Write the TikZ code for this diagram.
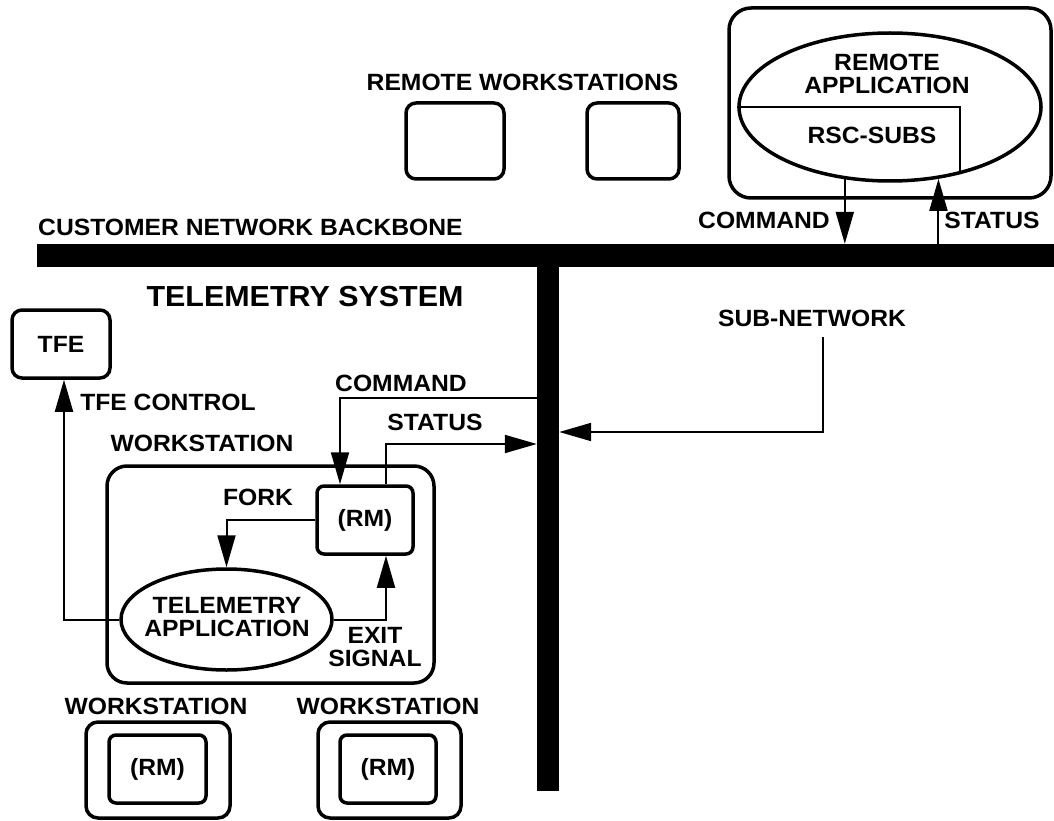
\documentclass[tikz,border=0pt]{standalone}
\usepackage{fontspec}
\newfontfamily\labfont{Liberation Sans}[FakeStretch=1.05]
\usetikzlibrary{shapes.geometric,arrows.meta}
\begin{document}
\begin{tikzpicture}[x=1pt,y=-1pt,
  box/.style={draw, line width=3.5pt, rounded corners=18pt, inner sep=0pt},
  sbox/.style={draw, line width=3.5pt, rounded corners=7pt, inner sep=0pt},
  ell/.style={ellipse, draw, line width=3.5pt, inner sep=0pt},
  bar/.style={fill=black, draw=none, inner sep=0pt},
  conn/.style={line width=2pt},
  arr/.style={conn, -{Triangle[length=32pt,width=18pt]}},
  lbl/.style={font=\labfont\bfseries\fontsize{23.5}{23}\selectfont, inner sep=0pt, align=center},
  big/.style={font=\labfont\bfseries\fontsize{29}{29}\selectfont, inner sep=0pt}]
\useasboundingbox (0,0) rectangle (1054,821);
% bars
\node[bar, minimum width=1017pt, minimum height=23pt] (backbone) at (545.5,255.5) {};
\node[bar, minimum width=22pt, minimum height=530pt] (vbar) at (548,526) {};
% remote part
\node[lbl] (remws) at (522.5,82) {REMOTE WORKSTATIONS};
\node[box, rounded corners=10pt, minimum width=98pt, minimum height=76pt] (rw1) at (455,141) {};
\node[box, rounded corners=10pt, minimum width=92pt, minimum height=76pt] (rw2) at (633,141) {};
\node[box, rounded corners=22pt, minimum width=322pt, minimum height=190pt] (remote) at (890,103) {};
\node[ell, minimum width=302pt, minimum height=148pt] (remapp) at (890,107) {};
\node[lbl] (remapptxt) at (887,73.5) {REMOTE\\APPLICATION};
\node[lbl] (rsc) at (872,135) {RSC-SUBS};
\draw[conn] (remapp.west) -- (remapp.west -| remapp.316) -- (remapp.316);
\draw[arr] (remapp.238) -- (remapp.238 |- backbone.north);
\draw[arr] (backbone.north -| remapp.304) -- (remapp.304);
\node[lbl] (cmdtop) at (764,220) {COMMAND};
\node[lbl] (stattop) at (992,220) {STATUS};
\node[lbl, anchor=west] (backtxt) at (38,227) {CUSTOMER NETWORK BACKBONE};
\node[big] (telsys) at (305,297) {TELEMETRY SYSTEM};
\node[lbl] (subnet) at (812,318) {SUB-NETWORK};
% TFE
\node[box, rounded corners=10pt, minimum width=98pt, minimum height=68pt, lbl] (tfe) at (61,344) {TFE};
\node[lbl] (tfectl) at (168,402) {TFE CONTROL};
% workstation
\node[lbl] (wslbl) at (202,443) {WORKSTATION};
\node[box, rounded corners=20pt, minimum width=327pt, minimum height=217pt] (ws) at (270.5,574.5) {};
\node[sbox, lbl, minimum width=96pt, minimum height=68pt] (rm) at (365,520) {(RM)};
\node[ell, lbl, minimum width=211pt, minimum height=101pt] (telapp) at (226.5,619.5) {};
\node[lbl] (telapptxt) at (227,617) {TELEMETRY\\APPLICATION};
\node[lbl] (fork) at (258,497) {FORK};
\node[lbl] (exitsig) at (375,647) {EXIT\\SIGNAL};
\node[lbl] (cmdmid) at (401,383) {COMMAND};
\node[lbl] (statmid) at (435,422) {STATUS};
% connectors
\coordinate (cmdturn) at (340,398);
\coordinate (statturn) at (386,444);
\coordinate (subtop) at (823,337);
\coordinate (subturn) at (823,432);
\draw[arr] (telapp.west) -| ([xshift=3pt]tfe.south);
\draw[arr] (rm.west) -| (telapp.north);
\draw[arr] (telapp.east) -| (statturn |- rm.south);
\draw[arr] (cmdturn -| vbar.west) -- (cmdturn) -- (cmdturn |- rm.north);
\draw[arr] (statturn |- rm.north) -- (statturn) -- (statturn -| vbar.west);
\draw[arr] (subtop) -- (subturn) -- (subturn -| vbar.east);
% bottom workstations
\node[lbl] (ws2lbl) at (156,706) {WORKSTATION};
\node[lbl] (ws3lbl) at (388,706) {WORKSTATION};
\node[box, rounded corners=12pt, minimum width=144pt, minimum height=96pt] (ws2) at (158,770) {};
\node[sbox, lbl, minimum width=97pt, minimum height=68pt] (rm2) at (157.5,769) {(RM)};
\node[box, rounded corners=12pt, minimum width=143pt, minimum height=96pt] (ws3) at (389.5,770) {};
\node[sbox, lbl, minimum width=96pt, minimum height=68pt] (rm3) at (388,769) {(RM)};
\end{tikzpicture}
\end{document}
